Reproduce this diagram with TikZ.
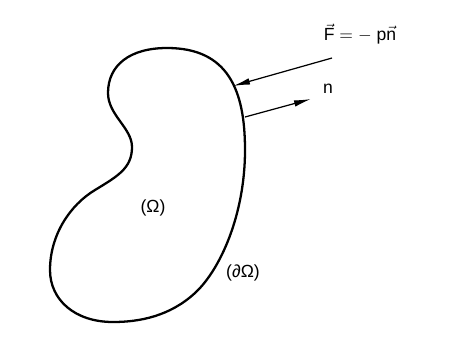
\documentclass[tikz,border=0pt]{standalone}
\usepackage{amsmath}
\usepackage{fontspec}
\setmainfont{Liberation Sans}
\usetikzlibrary{arrows.meta}

\begin{document}
\begin{tikzpicture}[
    x=0.02cm, y=-0.02cm,
    rotulo/.style={font=\normalsize, inner sep=1pt},
    contorno/.style={line width=1.3pt},
    seta/.style={-{Latex[length=3.4mm, width=1.3mm]}, line width=0.7pt}
]
\useasboundingbox (0,0) rectangle (475,349);

% contorno do dominio
\draw[contorno] (167,48) .. controls (228,48) and (245,90) .. (245,150)
    .. controls (245,215) and (220,270) .. (195,293)
    .. controls (170,316) and (140,322) .. (113,322)
    .. controls (75,322) and (50,300) .. (50,270)
    .. controls (50,235) and (70,205) .. (95,190)
    .. controls (118,176) and (132,168) .. (132,147)
    .. controls (132,128) and (108,115) .. (108,93)
    .. controls (108,65) and (130,48) .. (167,48) -- cycle;

% pontos das setas
\coordinate (forcaini) at (332,58);
\coordinate (forcafim) at (233,86);
\coordinate (normalini) at (245,117);
\coordinate (normalfim) at (311,99);

% rotulos
\node[rotulo] (forca) at (360,34) {$\vec{\text{F}} = -\;\text{p}\vec{\text{n}}$};
\node[rotulo] (normal) at (328,89) {n};
\node[rotulo] (dominio) at (153,208) {(Ω)};
\node[rotulo] (fronteira) at (243,273) {(∂Ω)};

\draw[seta] (forcaini) -- (forcafim);
\draw[seta] (normalini) -- (normalfim);

\end{tikzpicture}
\end{document}
